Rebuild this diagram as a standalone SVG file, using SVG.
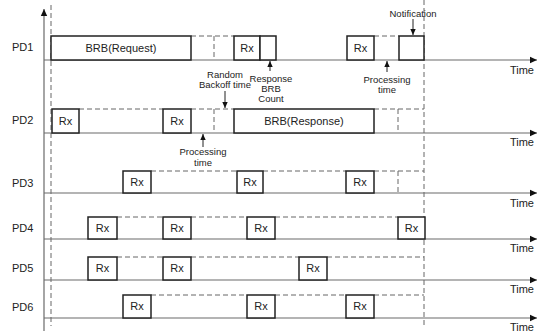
<svg xmlns="http://www.w3.org/2000/svg" width="549" height="332" viewBox="0 0 549 332">
<defs>
<style>
text{font-family:"Liberation Sans",Arial,sans-serif;fill:#222}
.lbl{font-size:11px}
.rx{font-size:11px;text-anchor:middle}
.ann{font-size:9.5px;text-anchor:middle}
.time{font-size:11px;text-anchor:end}
.box{fill:#fff;stroke:#222;stroke-width:1.5}
.tl{stroke:#6a6a6a;stroke-width:1.2;fill:none}
.dash{stroke:#666;stroke-width:1;stroke-dasharray:5,3;fill:none}
.ar{stroke:#222;stroke-width:1;fill:none}
</style>
<marker id="tip" markerUnits="userSpaceOnUse" markerWidth="8" markerHeight="8" refX="7" refY="4" orient="auto">
<path d="M0,0.8 L7,4 L0,7.2 Z" fill="#111"/>
</marker>
<marker id="sm" markerUnits="userSpaceOnUse" markerWidth="7" markerHeight="7" refX="6" refY="3.5" orient="auto">
<path d="M0,0.8 L6,3.5 L0,6.2 Z" fill="#111"/>
</marker>
</defs>

<g id="axes">
<line class="tl" x1="44" y1="331" x2="44" y2="9" marker-end="url(#tip)"/>
<line class="dash" x1="51" y1="5" x2="51" y2="326"/>
<line class="dash" x1="424" y1="0" x2="424" y2="326"/>
</g>

<g id="connectors">
<line class="tl" x1="44" y1="60" x2="537" y2="60" marker-end="url(#tip)"/>
<line class="tl" x1="44" y1="133" x2="537" y2="133" marker-end="url(#tip)"/>
<line class="tl" x1="44" y1="193" x2="537" y2="193" marker-end="url(#tip)"/>
<line class="tl" x1="44" y1="239" x2="537" y2="239" marker-end="url(#tip)"/>
<line class="tl" x1="44" y1="280" x2="537" y2="280" marker-end="url(#tip)"/>
<line class="tl" x1="44" y1="318" x2="537" y2="318" marker-end="url(#tip)"/>
<!-- dashed idle segments -->
<path class="dash" d="M191,36 H234 M214,36 V60 M374,36 H399"/>
<path class="dash" d="M79,109 H163 M191,109 H234 M214,109 V133 M374,109 H424 M398,109 V133"/>
<path class="dash" d="M151,171 H237 M263,171 H346 M374,171 H424 M398,171 V193"/>
<path class="dash" d="M117,217 H163 M191,217 H247 M275,217 H398"/>
<path class="dash" d="M117,257 H163 M191,257 H299 M327,257 H424"/>
<path class="dash" d="M151,295 H247 M275,295 H346 M374,295 H424"/>
<!-- annotation arrows -->
<line class="ar" x1="413" y1="19" x2="413" y2="35" marker-end="url(#sm)"/>
<line class="ar" x1="225" y1="91" x2="225" y2="108" marker-end="url(#sm)"/>
<line class="ar" x1="270" y1="71" x2="270" y2="61" marker-end="url(#sm)"/>
<line class="ar" x1="387" y1="72" x2="387" y2="61" marker-end="url(#sm)"/>
<line class="ar" x1="203" y1="147" x2="203" y2="134" marker-end="url(#sm)"/>
</g>

<g id="labels">
<text class="lbl" x="12" y="51">PD1</text>
<text class="lbl" x="12" y="124">PD2</text>
<text class="lbl" x="12" y="187">PD3</text>
<text class="lbl" x="12" y="232">PD4</text>
<text class="lbl" x="12" y="272">PD5</text>
<text class="lbl" x="12" y="311">PD6</text>
<text class="time" x="534" y="74">Time</text>
<text class="time" x="534" y="146">Time</text>
<text class="time" x="534" y="207">Time</text>
<text class="time" x="534" y="252">Time</text>
<text class="time" x="534" y="293">Time</text>
<text class="time" x="534" y="331">Time</text>
</g>

<g id="annotations">
<text class="ann" x="413" y="17">Notification</text>
<text class="ann" x="225" y="78">Random</text>
<text class="ann" x="225" y="88">Backoff time</text>
<text class="ann" x="271" y="82">Response</text>
<text class="ann" x="271" y="92">BRB</text>
<text class="ann" x="271" y="102">Count</text>
<text class="ann" x="387" y="83">Processing</text>
<text class="ann" x="387" y="93">time</text>
<text class="ann" x="203" y="155">Processing</text>
<text class="ann" x="203" y="166">time</text>
</g>

<g id="pd1">
<rect class="box" x="51" y="36" width="140" height="24"/>
<text class="rx" x="121" y="52">BRB(Request)</text>
<rect class="box" x="234" y="36" width="26" height="24"/>
<text class="rx" x="247" y="52">Rx</text>
<rect class="box" x="260" y="36" width="16" height="24"/>
<rect class="box" x="347" y="36" width="27" height="24"/>
<text class="rx" x="360.5" y="52">Rx</text>
<rect class="box" x="399" y="36" width="25" height="24"/>
</g>

<g id="pd2">
<rect class="box" x="52" y="109" width="27" height="24"/>
<text class="rx" x="65.5" y="125">Rx</text>
<rect class="box" x="163" y="109" width="28" height="24"/>
<text class="rx" x="177" y="125">Rx</text>
<rect class="box" x="234" y="109" width="140" height="24"/>
<text class="rx" x="304" y="125">BRB(Response)</text>
</g>

<g id="pd3">
<rect class="box" x="123" y="171" width="28" height="22"/>
<text class="rx" x="137" y="186">Rx</text>
<rect class="box" x="237" y="171" width="26" height="22"/>
<text class="rx" x="250" y="186">Rx</text>
<rect class="box" x="346" y="171" width="28" height="22"/>
<text class="rx" x="360" y="186">Rx</text>
</g>

<g id="pd4">
<rect class="box" x="88" y="217" width="29" height="22"/>
<text class="rx" x="102.5" y="232">Rx</text>
<rect class="box" x="163" y="217" width="28" height="22"/>
<text class="rx" x="177" y="232">Rx</text>
<rect class="box" x="247" y="217" width="28" height="22"/>
<text class="rx" x="261" y="232">Rx</text>
<rect class="box" x="398" y="217" width="27" height="22"/>
<text class="rx" x="411.5" y="232">Rx</text>
</g>

<g id="pd5">
<rect class="box" x="88" y="257" width="29" height="23"/>
<text class="rx" x="102.5" y="272">Rx</text>
<rect class="box" x="163" y="257" width="28" height="23"/>
<text class="rx" x="177" y="272">Rx</text>
<rect class="box" x="299" y="257" width="28" height="23"/>
<text class="rx" x="313" y="272">Rx</text>
</g>

<g id="pd6">
<rect class="box" x="123" y="295" width="28" height="23"/>
<text class="rx" x="137" y="310">Rx</text>
<rect class="box" x="247" y="295" width="28" height="23"/>
<text class="rx" x="261" y="310">Rx</text>
<rect class="box" x="346" y="295" width="28" height="23"/>
<text class="rx" x="360" y="310">Rx</text>
</g>
</svg>
